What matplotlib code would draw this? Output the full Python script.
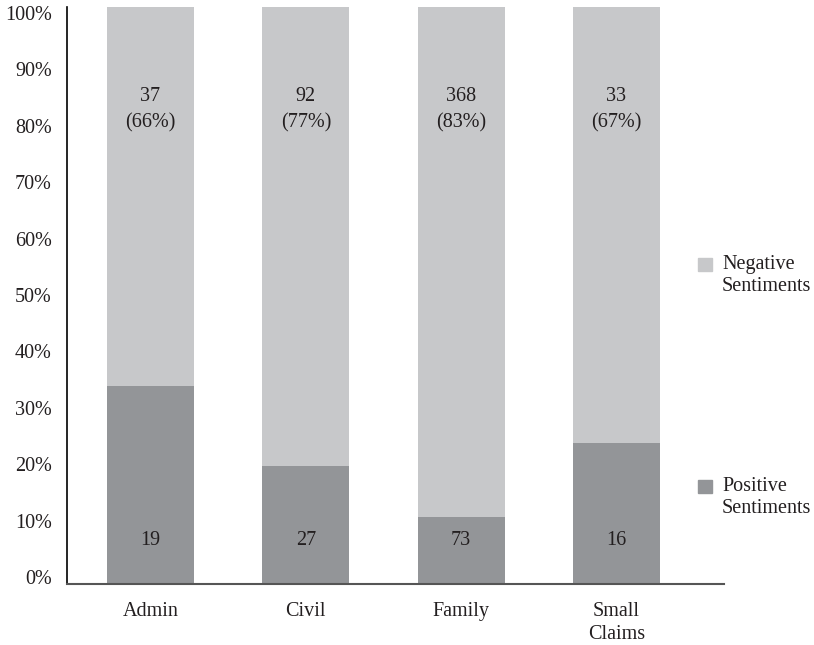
import matplotlib.pyplot as plt
from matplotlib.patches import Rectangle
from matplotlib.transforms import ScaledTranslation

plt.rcParams['font.family'] = ['Liberation Serif', 'DejaVu Serif']

# data
categories = ["Admin", "Civil", "Family", "Small\nClaims"]
positive_share = [34.3, 20.4, 11.6, 24.4]   # height of the dark segment (%)
positive_counts = ["19", "27", "73", "16"]
negative_counts = ["37", "92", "368", "33"]
negative_pcts = ["(66%)", "(77%)", "(83%)", "(67%)"]

dark = "#939598"
light = "#c7c8ca"
txt = "#231f20"
fs = 14.5

fig = plt.figure(figsize=(8.14, 6.45), dpi=100)
ax = fig.add_axes([67 / 814, 1 - 584 / 645, (724 - 67) / 814, (584 - 7) / 645])

x = list(range(len(categories)))
negative_share = [100 - p for p in positive_share]
ax.bar(x, positive_share, width=0.56, color=dark, zorder=2)
ax.bar(x, negative_share, width=0.56, bottom=positive_share, color=light, zorder=2)

for i in x:
    ax.text(i, 7.6, positive_counts[i], ha="center", va="center", fontsize=fs, color=txt)
    ax.text(i, 82.2, negative_counts[i] + "\n" + negative_pcts[i], ha="center", va="center",
            fontsize=fs, color=txt, linespacing=1.45)

ax.set_xlim(-0.538, 3.693)
ax.set_ylim(0, 100)
yticks = list(range(0, 101, 10))
ax.set_yticks(yticks)
ax.set_yticklabels([f"{v}%" for v in yticks], fontsize=fs, color=txt)
ax.set_xticks(x)
ax.set_xticklabels(categories, fontsize=fs, color=txt, linespacing=1.25, va="top")
ax.tick_params(axis="y", length=0, pad=11)
ax.tick_params(axis="x", length=0, pad=13)

# the reference's y labels are squeezed a little towards the middle
for v, lab in zip(yticks, ax.get_yticklabels()):
    dy = (7 - 0.13 * v) / 100  # inches, upward
    lab.set_transform(lab.get_transform() + ScaledTranslation(0, dy, fig.dpi_scale_trans))

for s in ["top", "right"]:
    ax.spines[s].set_visible(False)
ax.spines["left"].set_color("black")
ax.spines["left"].set_linewidth(1.2)
ax.spines["bottom"].set_color("#555555")
ax.spines["bottom"].set_linewidth(1.5)
ax.spines["bottom"].set_zorder(3)

# legend drawn by hand so the swatch sits on the first text line
legend_items = [("Negative\nSentiments", light, 264), ("Positive\nSentiments", dark, 486)]
for label, col, ypix in legend_items:
    fig.patches.append(Rectangle((698 / 814, 1 - (ypix + 7) / 645), 14 / 814, 13 / 645,
                                 transform=fig.transFigure, color=col))
    fig.text(722 / 814, 1 - (ypix - 9) / 645, label, ha="left", va="top",
             fontsize=fs, color=txt, linespacing=1.2)

fig.savefig("out.png", dpi=100)
